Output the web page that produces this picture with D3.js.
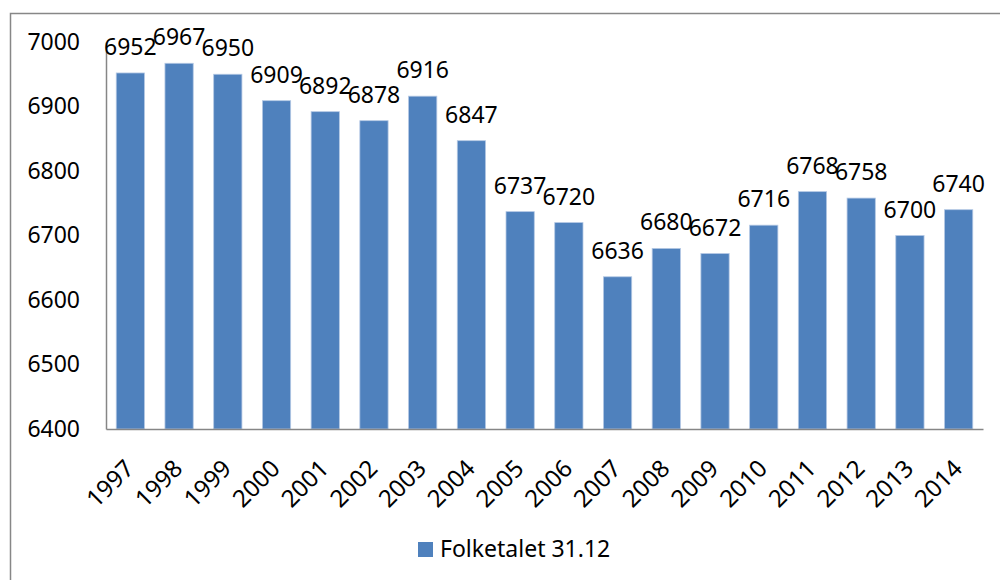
<!DOCTYPE html>
<meta charset="utf-8">
<script src="https://d3js.org/d3.v7.min.js"></script>
<style>
  body { margin: 0; background: white; }
  text { font-family: "Noto Sans", sans-serif; fill: #000; }
</style>
<div id="chart"></div>
<script>

// data
var years = ["1997","1998","1999","2000","2001","2002","2003","2004","2005",
             "2006","2007","2008","2009","2010","2011","2012","2013","2014"];
var folketal = [6952, 6967, 6950, 6909, 6892, 6878, 6916, 6847, 6737,
                6720, 6636, 6680, 6672, 6716, 6768, 6758, 6700, 6740];
var yTicks = [6400, 6500, 6600, 6700, 6800, 6900, 7000];
var seriesName = "Folketalet 31.12";

var W = 1000, H = 580;
var plot = {left: 106, right: 983, top: 42, bottom: 429};
var fontSize = "23px";

var svg = d3.select("#chart").append("svg")
  .attr("width", W)
  .attr("height", H);

// outer chart border
svg.append("rect")
  .attr("x", 10.5).attr("y", 13.5)
  .attr("width", 1000).attr("height", 600)
  .attr("fill", "none")
  .attr("stroke", "#878787")
  .attr("stroke-width", 1.5);

var x = d3.scaleBand()
  .domain(years)
  .range([plot.left, plot.right])
  .paddingInner(0.42)
  .paddingOuter(0.21);

var y = d3.scaleLinear()
  .domain([6400, 7000])
  .range([plot.bottom, plot.top]);

// bars
svg.selectAll("rect.bar")
  .data(folketal)
  .enter()
  .append("rect")
    .attr("class", "bar")
    .attr("x", function(d, i) { return x(years[i]); })
    .attr("y", function(d) { return y(d); })
    .attr("width", x.bandwidth())
    .attr("height", function(d) { return plot.bottom - y(d); })
    .attr("fill", "#4F81BD")
    .attr("stroke", "#b4c8e4")
    .attr("stroke-width", 0.8);

// y axis
var yAxis = svg.append("g")
  .attr("transform", "translate(" + plot.left + ",0)")
  .call(d3.axisLeft(y).tickValues(yTicks).tickFormat(d3.format("d"))
    .tickSize(0).tickPadding(26));
yAxis.select(".domain").attr("stroke", "#868686").attr("stroke-width", 1.5);
yAxis.selectAll("text")
  .style("font-family", "Noto Sans")
  .style("font-size", fontSize);

// x axis
var xAxis = svg.append("g")
  .attr("transform", "translate(0," + plot.bottom + ")")
  .call(d3.axisBottom(x).tickSize(0));
xAxis.select(".domain").attr("stroke", "#868686").attr("stroke-width", 1.5);
xAxis.selectAll("text")
  .style("font-family", "Noto Sans")
  .style("font-size", "24px")
  .style("text-anchor", "end")
  .attr("dy", 0)
  .attr("y", 0)
  .attr("transform", "translate(5,41)rotate(-45)");

// data labels
svg.selectAll("text.lbl")
  .data(folketal)
  .enter()
  .append("text")
    .attr("class", "lbl")
    .attr("x", function(d, i) { return x(years[i]) + x.bandwidth() / 2; })
    .attr("y", function(d) { return y(d) - 18; })
    .attr("text-anchor", "middle")
    .style("font-size", fontSize)
    .text(function(d) { return d; });

// legend
var legend = svg.append("g").attr("transform", "translate(418,542)");
legend.append("rect")
  .attr("width", 15).attr("height", 15)
  .attr("fill", "#4F81BD");
legend.append("text")
  .attr("x", 22).attr("y", 15)
  .style("font-size", fontSize)
  .text(seriesName);

</script>
